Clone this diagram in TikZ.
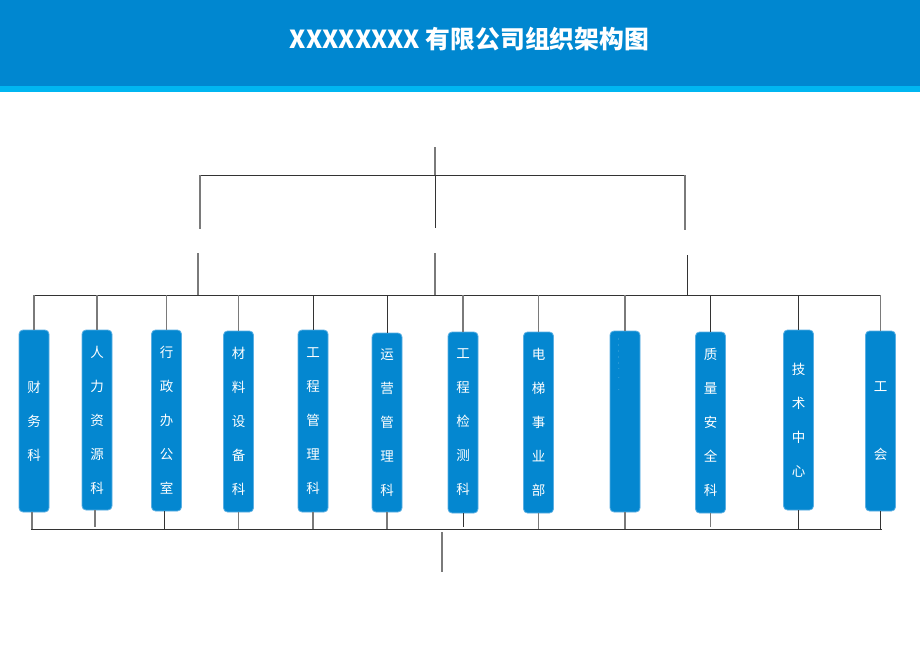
\documentclass[tikz,border=0pt]{standalone}
\usepackage{fontspec}
\setmainfont{Noto Sans CJK SC}
\newfontfamily\cjk{Noto Sans CJK SC}
\definecolor{hdr}{HTML}{0087D0}
\definecolor{strip}{HTML}{00B6F1}
\definecolor{boxc}{HTML}{0487D0}
\definecolor{boxe}{HTML}{5AAFE3}
\definecolor{lgray}{HTML}{7A7A7A}
\definecolor{ldark}{HTML}{333333}
\begin{document}
\begin{tikzpicture}[x=1pt,y=-1pt,
  dept/.style={draw=boxe,line width=0.8pt,fill=boxc,rounded corners=4pt,minimum width=30pt,inner sep=0pt,text=white,font=\cjk\fontsize{13.5}{34}\selectfont,align=center},
  gl/.style={draw=lgray,line width=1.3pt},
  dl/.style={draw=ldark,line width=1pt}]
\useasboundingbox (0,0) rectangle (920,651);
\fill[white] (0,0) rectangle (920,651);
% header
\fill[hdr] (0,0) rectangle (920,86);
\fill[strip] (0,86) rectangle (920,92);
\node[text=white,font=\cjk\bfseries\fontsize{24.8}{28}\selectfont] (title) at (469.5,39) {XXXXXXXX 有限公司组织架构图};
% top structure
\coordinate (t0) at (435,147);
\coordinate (tm) at (435,175);
\coordinate (tl) at (200,175);
\coordinate (tr) at (685,175);
\coordinate (tlb) at (200,229);
\coordinate (tmb) at (435,228);
\coordinate (trb) at (685,230);
\draw[gl] (t0) -- (tm);
\draw[dl] (tm) -- (tmb);
\draw[dl] (tl) -- (tr);
\draw[gl] (tl) -- (tlb);
\draw[gl] (tr) -- (trb);
\coordinate (ml) at (198,253);
\coordinate (mm) at (435,253);
\coordinate (mr) at (687,255);
\coordinate (bl) at (198,295);
\coordinate (bm) at (435,295);
\coordinate (br) at (687,295);
\draw[gl] (ml) -- (bl);
\draw[gl] (mm) -- (bm);
\draw[dl] (mr) -- (br);
\coordinate (busL) at (35,295);
\coordinate (busR) at (881,295);
\draw[dl] (busL) -- (busR);
% boxes
\node[dept,minimum height=182pt] (b1) at (34,421) {财\\务\\科};
\node[dept,minimum height=180pt] (b2) at (97,420) {人\\力\\资\\源\\科};
\node[dept,minimum height=181pt] (b3) at (166.5,420.5) {行\\政\\办\\公\\室};
\node[dept,minimum height=181pt] (b4) at (238.5,421.5) {材\\料\\设\\备\\科};
\node[dept,minimum height=182pt] (b5) at (313,421) {工\\程\\管\\理\\科};
\node[dept,minimum height=179pt] (b6) at (387,422.5) {运\\营\\管\\理\\科};
\node[dept,minimum height=181pt] (b7) at (463,422.5) {工\\程\\检\\测\\科};
\node[dept,minimum height=181pt] (b8) at (538.5,422.5) {电\\梯\\事\\业\\部};
\node[dept,minimum height=181pt] (b9) at (625,421.5) {};
\node[text=white,font=\fontsize{4}{6}\selectfont,align=center,inner sep=0pt,anchor=north] (b9t) at ([xshift=-6pt,yshift=-8pt]b9.north) {:\\:\\:\\:\\:\\$\cdot$\\[3pt]$\cdot$\\[6pt]$\cdot$};
\node[dept,minimum height=181pt] (b10) at (710.5,422.5) {质\\量\\安\\全\\科};
\node[dept,minimum height=180pt] (b11) at (798.5,420) {技\\术\\中\\心};
\node[dept,minimum height=180pt] (b12) at (880.5,421) {工\\\mbox{}\\会};
% upper drops
\draw[gl] (b1.north |- busL) -- (b1.north);
\draw[gl] (b2.north |- busL) -- (b2.north);
\draw[gl] (b3.north |- busL) -- (b3.north);
\draw[gl] (b4.north |- busL) -- (b4.north);
\draw[dl] (b5.north |- busL) -- (b5.north);
\draw[dl] (b6.north |- busL) -- (b6.north);
\draw[gl] (b7.north |- busL) -- (b7.north);
\draw[gl] (b8.north |- busL) -- (b8.north);
\draw[gl] (b9.north |- busL) -- (b9.north);
\draw[dl] (b10.north |- busL) -- (b10.north);
\draw[dl] (b11.north |- busL) -- (b11.north);
\draw[gl] (b12.north |- busL) -- (b12.north);
% lower bus
\coordinate (lbL) at (31,529);
\coordinate (lbR) at (882,529);
\draw[dl] (lbL) -- (lbR);
\draw[gl] ([xshift=-2pt]b1.south) -- ([xshift=-2pt]b1.south |- lbL);
\draw[gl] ([xshift=-2pt]b2.south) -- ([xshift=-2pt,yshift=2pt]b2.south |- lbL);
\draw[dl] ([xshift=-2pt]b3.south) -- ([xshift=-2pt]b3.south |- lbL);
\draw[gl] (b4.south) -- (b4.south |- lbL);
\draw[gl] (b5.south) -- (b5.south |- lbL);
\draw[gl] (b6.south) -- (b6.south |- lbL);
\draw[dl] (b7.south) -- ([yshift=2pt]b7.south |- lbL);
\draw[gl] (b8.south) -- (b8.south |- lbL);
\draw[gl] (b9.south) -- (b9.south |- lbL);
\draw[gl] (b10.south) -- ([yshift=2pt]b10.south |- lbL);
\draw[dl] (b11.south) -- (b11.south |- lbL);
\draw[dl] (b12.south) -- (b12.south |- lbL);
\coordinate (bot1) at (442,532);
\coordinate (bot2) at (442,572);
\draw[gl] (bot1) -- (bot2);
\end{tikzpicture}
\end{document}
